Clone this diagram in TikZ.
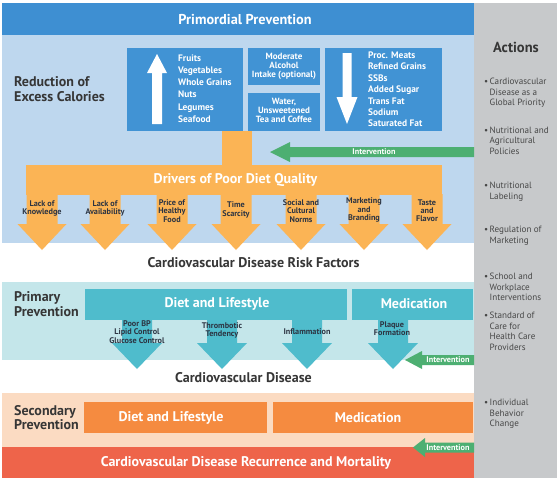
\documentclass[tikz,border=0pt]{standalone}
\usepackage{fontspec}
\setmainfont{PT Sans}
\definecolor{bandblue}{HTML}{3E8FD2}
\definecolor{lightblue}{HTML}{BED7EE}
\definecolor{boxblue}{HTML}{4193D4}
\definecolor{orng}{HTML}{FBB455}
\definecolor{grn}{HTML}{4DAF72}
\definecolor{panelgray}{HTML}{C7C9CB}
\definecolor{lightcyan}{HTML}{C4E6EA}
\definecolor{teal}{HTML}{4FBCCC}
\definecolor{peach}{HTML}{FBDBC2}
\definecolor{orbox}{HTML}{F58B40}
\definecolor{redband}{HTML}{EE644A}
\definecolor{darktext}{HTML}{363636}
\definecolor{navytext}{HTML}{2C3442}
\definecolor{acttext}{HTML}{474747}
\newcommand{\blockarrow}[7]{\fill[#1] ({#2-#6},#3) -- ({#2+#6},#3) -- ({#2+#6},#4) -- ({#2+#7},#4) -- (#2,#5) -- ({#2-#7},#4) -- ({#2-#6},#4) -- cycle;}
\newcommand{\leftarrowshape}[7]{\fill[#1] (#2,#5) -- (#3,{#5-#7}) -- (#3,{#5-#6}) -- (#4,{#5-#6}) -- (#4,{#5+#6}) -- (#3,{#5+#6}) -- (#3,{#5+#7}) -- cycle;}
\begin{document}
\begin{tikzpicture}[x=1pt,y=-1pt,
  region/.style={anchor=north west, inner sep=0, outer sep=0, draw=none},
  hdr/.style={font=\fontsize{14}{15}\selectfont\bfseries, text=darktext, inner sep=0, align=left},
  wtitle/.style={font=\fontsize{14}{15}\selectfont\bfseries, text=white, inner sep=0},
  boxtxt/.style={text=white, inner sep=0, align=left},
  lbl/.style={font=\fontsize{8.2}{8.3}\selectfont\bfseries, text=navytext, inner sep=0, align=center},
  act/.style={font=\fontsize{9.1}{10.5}\selectfont, text=acttext, inner sep=0, align=left, anchor=west},
  intv/.style={font=\fontsize{8.2}{9}\selectfont\bfseries, text=white, inner sep=0}]
\useasboundingbox (0,0) rectangle (560,480);
\fill[white] (0,0) rectangle (560,480);

% background regions
\node[region, fill=panelgray, minimum width=83, minimum height=475] (panel) at (474,3) {};
\node[region, fill=lightblue, minimum width=472, minimum height=208] (lightreg) at (2,35) {};
\node[region, fill=bandblue, minimum width=472, minimum height=32] (primordial) at (2,3) {};
\node[region, fill=lightcyan, minimum width=472, minimum height=78] (primreg) at (2,282) {};
\node[region, fill=peach, minimum width=472, minimum height=54] (secreg) at (2,393) {};
\node[region, fill=redband, minimum width=472, minimum height=31] (redreg) at (2,447) {};

% food boxes
\node[region, fill=boxblue, minimum width=116, minimum height=83] (healthy) at (127,48) {};
\node[region, fill=boxblue, minimum width=72, minimum height=37] (alcohol) at (248,48) {};
\node[region, fill=boxblue, minimum width=72, minimum height=38] (water) at (248,93) {};
\node[region, fill=boxblue, minimum width=117, minimum height=83] (unhealthy) at (325,48) {};
\blockarrow{white}{157}{124}{73}{54}{5}{10}
\blockarrow{white}{347}{53}{97}{124}{4.5}{10.5}

% orange drivers structure
\fill[orng] (222,131) rectangle (252,166);
\node[region, fill=orng, minimum width=416, minimum height=30] (drivers) at (26,165) {};
\foreach \cx in {42,105,172,236,301,364,427}{\blockarrow{orng}{\cx}{194}{224}{250}{15.5}{24.5}}

% green intervention arrows
\leftarrowshape{grn}{270}{290}{474}{152}{5}{10}
\leftarrowshape{grn}{405}{422}{474}{360}{5}{9}
\leftarrowshape{grn}{413}{425}{474}{447.5}{5}{9.5}

% primary boxes and arrows
\node[region, fill=teal, minimum width=262, minimum height=31] (pdiet) at (85,289) {};
\node[region, fill=teal, minimum width=121, minimum height=31] (pmed) at (352,289) {};
\foreach \cx in {137,222,307,393}{\blockarrow{teal}{\cx}{319}{343}{369}{15}{25}}

% secondary boxes
\node[region, fill=orbox, minimum width=183, minimum height=31] (sdiet) at (84,402) {};
\node[region, fill=orbox, minimum width=200, minimum height=31] (smed) at (273,402) {};

% texts
\node[wtitle, font=\fontsize{14.3}{15}\selectfont\bfseries] (tprim) at (245,19.5) {Primordial Prevention};
\node[hdr, anchor=west] (tred) at (14,89.5) {Reduction of\\Excess Calories};
\node[boxtxt, anchor=west, font=\fontsize{9.4}{12.3}\selectfont\bfseries] (thealthy) at (178,88.5) {Fruits\\Vegetables\\Whole Grains\\Nuts\\Legumes\\Seafood};
\node[boxtxt, align=center, font=\fontsize{9}{9}\selectfont\bfseries] (talcohol) at (284,66.5) {Moderate\\Alcohol\\Intake (optional)};
\node[boxtxt, align=center, font=\fontsize{9}{8.7}\selectfont\bfseries] (twater) at (284,110.5) {Water,\\Unsweetened\\Tea and Coffee};
\node[boxtxt, anchor=west, font=\fontsize{9.4}{11.4}\selectfont\bfseries] (tunhealthy) at (368,89.5) {Proc. Meats\\Refined Grains\\SSBs\\Added Sugar\\Trans Fat\\Sodium\\Saturated Fat};
\node[wtitle] (tdrivers) at (235.5,180) {Drivers of Poor Diet Quality};
\node[lbl] (d1) at (42,208.5) {Lack of\\Knowledge};
\node[lbl] (d2) at (105,208.5) {Lack of\\Availability};
\node[lbl] (d3) at (172,211) {Price of\\Healthy\\Food};
\node[lbl] (d4) at (236,210) {Time\\Scarcity};
\node[lbl] (d5) at (301,211) {Social and\\Cultural\\Norms};
\node[lbl] (d6) at (364,210) {Marketing\\and\\Branding};
\node[lbl] (d7) at (427,210.5) {Taste\\and\\Flavor};
\node[intv] (i1) at (374,152) {Intervention};
\node[hdr] (trisk) at (253.5,262.5) {Cardiovascular Disease Risk Factors};

\node[hdr, anchor=west] (tprimary) at (14,304.5) {Primary\\Prevention};
\node[wtitle] (tpdiet) at (217,303.5) {Diet and Lifestyle};
\node[wtitle] (tpmed) at (414,303.5) {Medication};
\node[lbl] (p1) at (137,332) {Poor BP\\Lipid Control\\Glucose Control};
\node[lbl] (p2) at (222,330.5) {Thrombotic\\Tendency};
\node[lbl] (p3) at (307,332) {Inflammation};
\node[lbl] (p4) at (392,328.5) {Plaque\\Formation};
\node[intv] (i2) at (448,360) {Intervention};
\node[hdr] (tcvd) at (243.5,377.5) {Cardiovascular Disease};

\node[hdr, anchor=west, font=\fontsize{14}{14}\selectfont\bfseries] (tsecondary) at (14,418) {Secondary\\Prevention};
\node[wtitle] (tsdiet) at (171,417.5) {Diet and Lifestyle};
\node[wtitle] (tsmed) at (368,417.5) {Medication};
\node[intv] (i3) at (448,447.5) {Intervention};
\node[wtitle] (tmort) at (246,462.5) {Cardiovascular Disease Recurrence and Mortality};

% actions panel
\node[hdr, font=\fontsize{14.5}{15}\selectfont\bfseries] (tactions) at (516,47) {Actions};
\node[act] (a1) at (489.5,93) {\llap{•\,}Cardiovascular\\Disease as a\\Global Priority};
\node[act] (a2) at (489.5,140.5) {\llap{•\,}Nutritional and\\Agricultural\\Policies};
\node[act] (a3) at (489.5,191.5) {\llap{•\,}Nutritional\\Labeling};
\node[act] (a4) at (489.5,235.5) {\llap{•\,}Regulation of\\Marketing};
\node[act] (a5) at (489.5,287) {\llap{•\,}School and\\Workplace\\Interventions};
\node[act] (a6) at (489.5,331.5) {\llap{•\,}Standard of\\Care for\\Health Care\\Providers};
\node[act] (a7) at (489.5,414) {\llap{•\,}Individual\\Behavior\\Change};
\end{tikzpicture}
\end{document}
